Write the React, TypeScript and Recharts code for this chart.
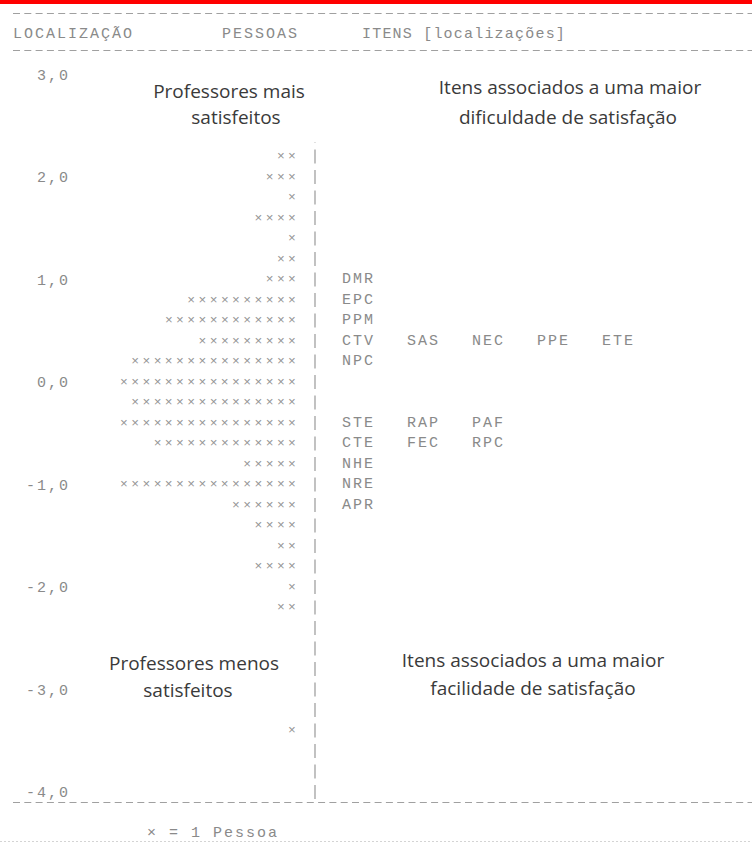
import { ReferenceLine, Scatter, ScatterChart, XAxis, YAxis } from "recharts";

/**
 * Mapa de Wright (pessoas × itens) redesenhado como um ScatterChart.
 * Cada linha de pessoas é um ponto com a contagem desenhada como "×".
 */

// pessoas: localização da linha e número de professores nessa linha
const PERSON_LOCS = [2.2, 2.0, 1.8, 1.6, 1.4, 1.2, 1.0, 0.8, 0.6, 0.4, 0.2, 0.0, -0.2, -0.4, -0.6, -0.8, -1.0, -1.2, -1.4, -1.6, -1.8, -2.0, -2.2, -3.4];
const PERSON_COUNTS = [2, 3, 1, 4, 1, 2, 3, 10, 12, 9, 15, 16, 15, 16, 13, 5, 16, 6, 4, 2, 4, 1, 2, 1];

// itens: código e localização
const ITEM_CODES = ["DMR", "EPC", "PPM", "CTV", "SAS", "NEC", "PPE", "ETE", "NPC", "STE", "RAP", "PAF", "CTE", "FEC", "RPC", "NHE", "NRE", "APR"];
const ITEM_LOCS = [1.0, 0.8, 0.6, 0.4, 0.4, 0.4, 0.4, 0.4, 0.2, -0.4, -0.4, -0.4, -0.6, -0.6, -0.6, -0.8, -1.0, -1.2];

const Y_TICKS = [3, 2, 1, 0, -1, -2, -3, -4];

const MONO = "'Liberation Mono', 'DejaVu Sans Mono', monospace";
const SANS = "'Open Sans', 'Noto Sans', sans-serif";
const MONO_FILL = "#8a8a8a";

// x axis is in "item columns" (65px each, column 0 starts at 342px)
const X_MIN = -272 / 65;
const X_MAX = X_MIN + 682 / 65;
const PERSON_COL = (299.3 - 342) / 65;
const PIPE_COL = (315 - 342) / 65;

const personData = PERSON_LOCS.map((loc, i) => ({ x: PERSON_COL, loc, count: PERSON_COUNTS[i] }));

const itemData = (() => {
  const seen: Record<string, number> = {};
  return ITEM_CODES.map((code, i) => {
    const key = String(ITEM_LOCS[i]);
    const col = seen[key] ?? 0;
    seen[key] = col + 1;
    return { x: col, loc: ITEM_LOCS[i], code };
  });
})();

const fmt = (v: number) => v.toFixed(1).replace(".", ",");

function PersonRow(props: any) {
  const { cx, cy, payload } = props;
  return (
    <text
      x={cx}
      y={cy}
      textAnchor="end"
      dominantBaseline="central"
      fontFamily={MONO}
      fontSize={13}
      letterSpacing={3.4}
      fill="#949494"
    >
      {"×".repeat(payload.count)}
    </text>
  );
}

function ItemLabel(props: any) {
  const { cx, cy, payload } = props;
  return (
    <text x={cx} y={cy} dominantBaseline="central" fontFamily={MONO} fontSize={15} letterSpacing={2} fill={MONO_FILL}>
      {payload.code}
    </text>
  );
}

function Dashes({ y }: { y: number }) {
  return <line x1={13} x2={752} y1={y} y2={y} stroke="#a0a0a0" strokeWidth={1} strokeDasharray="7 4.3" />;
}

export default function App() {
  const mono = { fontFamily: MONO, fontSize: 15, letterSpacing: 2, fill: MONO_FILL };
  const sans = { fontFamily: SANS, fontSize: 19, fill: "#3a3a3a", textAnchor: "middle" as const };
  return (
    <div style={{ position: "absolute", left: 0, top: 0, width: 752, height: 843, background: "#fff" }}>
      <ScatterChart width={752} height={843} margin={{ top: 54, right: 0, bottom: 30.5, left: 0 }}>
        <XAxis type="number" dataKey="x" domain={[X_MIN, X_MAX]} allowDataOverflow hide />
        <YAxis
          type="number"
          dataKey="loc"
          domain={[-4.2, 3.2]}
          ticks={Y_TICKS}
          allowDataOverflow
          width={70}
          axisLine={false}
          tickLine={false}
          tickSize={0}
          tickMargin={0}
          tickFormatter={fmt}
          tick={{ ...mono }}
        />
        <ReferenceLine
          segment={[
            { x: PIPE_COL, y: 2.337 },
            { x: PIPE_COL, y: -4.068 },
          ]}
          stroke="#999999"
          strokeWidth={1.2}
          strokeDasharray="14 6.5"
          strokeDashoffset={13.5}
          ifOverflow="visible"
        />
        <Scatter data={personData} shape={PersonRow} isAnimationActive={false} />
        <Scatter data={itemData} shape={ItemLabel} isAnimationActive={false} />
      </ScatterChart>
      <svg width={752} height={843} style={{ position: "absolute", left: 0, top: 0, pointerEvents: "none" }}>
        <rect x={0} y={0} width={752} height={4} fill="#ff0000" />
        <Dashes y={13.5} />
        <text x={13} y={38} {...mono}>LOCALIZAÇÃO</text>
        <text x={222} y={38} {...mono}>PESSOAS</text>
        <text x={362} y={38} {...mono} letterSpacing={1.2}>ITENS [localizações]</text>
        <Dashes y={50.5} />

        <text x={229} y={98} {...sans}>Professores mais</text>
        <text x={236} y={124} {...sans}>satisfeitos</text>
        <text x={570} y={94} {...sans}>Itens associados a uma maior</text>
        <text x={568} y={124} {...sans}>dificuldade de satisfação</text>

        <text x={194} y={670} {...sans}>Professores menos</text>
        <text x={188} y={697} {...sans}>satisfeitos</text>
        <text x={533} y={667} {...sans}>Itens associados a uma maior</text>
        <text x={533} y={695} {...sans}>facilidade de satisfação</text>

        <Dashes y={802.5} />
        <text x={147} y={837} {...mono}>× = 1 Pessoa</text>
        <line x1={0} x2={752} y1={841.5} y2={841.5} stroke="#d4d4d4" strokeWidth={1} strokeDasharray="2 2" />
      </svg>
    </div>
  );
}
